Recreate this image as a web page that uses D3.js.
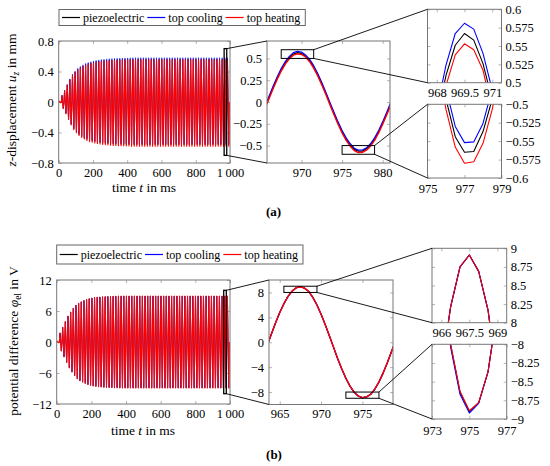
<!DOCTYPE html>
<html>
<head>
<meta charset="utf-8">
<script src="https://cdn.jsdelivr.net/npm/d3@7"></script>
<style>
body { margin: 0; background: #fff; }
svg text { font-family: "Liberation Serif", "DejaVu Serif", serif; }
</style>
</head>
<body>
<svg id="fig" width="550" height="466"></svg>
<script>
// ---------- data ----------
var seriesNames = ["piezoelectric", "top cooling", "top heating"];
var seriesColors = ["#000000", "#0000ff", "#ff0000"];

var period = 15.33; // ms, from the zero crossings of the zoomed curves

// (a) z-displacement, upper / lower peak of every cycle, 0..1000 ms
var dispPiezoTop = [0.012, 0.085, 0.150, 0.225, 0.295, 0.355, 0.395, 0.430, 0.455, 0.475,
  0.493, 0.505, 0.515, 0.525, 0.532, 0.538, 0.543, 0.547, 0.551, 0.554,
  0.556, 0.558, 0.560, 0.561, 0.562, 0.563, 0.564, 0.565, 0.566, 0.566,
  0.566, 0.566, 0.566, 0.566, 0.566, 0.566, 0.566, 0.566, 0.566, 0.566,
  0.566, 0.566, 0.566, 0.566, 0.566, 0.566, 0.566, 0.566, 0.566, 0.566,
  0.566, 0.566, 0.566, 0.566, 0.566, 0.566, 0.566, 0.566, 0.566, 0.566,
  0.566, 0.566, 0.566, 0.566, 0.566];
var dispPiezoBot = [-0.012, -0.085, -0.150, -0.225, -0.295, -0.355, -0.395, -0.430, -0.455, -0.475,
  -0.493, -0.505, -0.515, -0.525, -0.532, -0.538, -0.543, -0.547, -0.550, -0.553,
  -0.555, -0.557, -0.559, -0.560, -0.561, -0.562, -0.563, -0.564, -0.565, -0.565,
  -0.565, -0.565, -0.565, -0.565, -0.565, -0.565, -0.565, -0.565, -0.565, -0.565,
  -0.565, -0.565, -0.565, -0.565, -0.565, -0.565, -0.565, -0.565, -0.565, -0.565,
  -0.565, -0.565, -0.565, -0.565, -0.565, -0.565, -0.565, -0.565, -0.565, -0.565,
  -0.565, -0.565, -0.565, -0.565, -0.565];
var dispCoolTop = [0.012, 0.087, 0.154, 0.231, 0.303, 0.364, 0.405, 0.441, 0.467, 0.487,
  0.506, 0.518, 0.528, 0.538, 0.546, 0.552, 0.557, 0.561, 0.565, 0.568,
  0.570, 0.572, 0.574, 0.575, 0.576, 0.577, 0.578, 0.579, 0.581, 0.581,
  0.581, 0.581, 0.581, 0.581, 0.581, 0.581, 0.581, 0.581, 0.581, 0.581,
  0.581, 0.581, 0.581, 0.581, 0.581, 0.581, 0.581, 0.581, 0.581, 0.581,
  0.581, 0.581, 0.581, 0.581, 0.581, 0.581, 0.581, 0.581, 0.581, 0.581,
  0.581, 0.581, 0.581, 0.581, 0.581];
var dispCoolBot = [-0.012, -0.083, -0.146, -0.219, -0.287, -0.346, -0.385, -0.419, -0.443, -0.463,
  -0.480, -0.492, -0.502, -0.512, -0.518, -0.524, -0.529, -0.533, -0.537, -0.540,
  -0.542, -0.544, -0.546, -0.547, -0.548, -0.549, -0.550, -0.551, -0.552, -0.552,
  -0.552, -0.552, -0.552, -0.552, -0.552, -0.552, -0.552, -0.552, -0.552, -0.552,
  -0.552, -0.552, -0.552, -0.552, -0.552, -0.552, -0.552, -0.552, -0.552, -0.552,
  -0.552, -0.552, -0.552, -0.552, -0.552, -0.552, -0.552, -0.552, -0.552, -0.552,
  -0.552, -0.552, -0.552, -0.552, -0.552];
var dispHeatTop = [0.012, 0.083, 0.146, 0.220, 0.288, 0.346, 0.386, 0.420, 0.444, 0.464,
  0.481, 0.493, 0.503, 0.512, 0.519, 0.525, 0.530, 0.534, 0.538, 0.541,
  0.543, 0.545, 0.547, 0.548, 0.549, 0.550, 0.551, 0.552, 0.553, 0.553,
  0.553, 0.553, 0.553, 0.553, 0.553, 0.553, 0.553, 0.553, 0.553, 0.553,
  0.553, 0.553, 0.553, 0.553, 0.553, 0.553, 0.553, 0.553, 0.553, 0.553,
  0.553, 0.553, 0.553, 0.553, 0.553, 0.553, 0.553, 0.553, 0.553, 0.553,
  0.553, 0.553, 0.553, 0.553, 0.553];
var dispHeatBot = [-0.012, -0.087, -0.154, -0.230, -0.302, -0.364, -0.404, -0.440, -0.466, -0.486,
  -0.505, -0.517, -0.527, -0.538, -0.545, -0.551, -0.556, -0.560, -0.564, -0.567,
  -0.569, -0.571, -0.573, -0.574, -0.575, -0.577, -0.578, -0.579, -0.580, -0.580,
  -0.580, -0.580, -0.580, -0.580, -0.580, -0.580, -0.580, -0.580, -0.580, -0.580,
  -0.580, -0.580, -0.580, -0.580, -0.580, -0.580, -0.580, -0.580, -0.580, -0.580,
  -0.580, -0.580, -0.580, -0.580, -0.580, -0.580, -0.580, -0.580, -0.580, -0.580,
  -0.580, -0.580, -0.580, -0.580, -0.580];

// (a) zoomed samples, 0.5 ms step
var dispTime = [965.5, 966, 966.5, 967, 967.5, 968, 968.5, 969, 969.5, 970,
  970.5, 971, 971.5, 972, 972.5, 973, 973.5, 974, 974.5, 975,
  975.5, 976, 976.5, 977, 977.5, 978, 978.5, 979, 979.5, 980, 980.5, 981];
var dispPiezo = [-0.064, 0.052, 0.167, 0.273, 0.369, 0.449, 0.510, 0.551, 0.567, 0.558,
  0.526, 0.476, 0.403, 0.313, 0.210, 0.099, -0.018, -0.132, -0.242, -0.342,
  -0.426, -0.493, -0.544, -0.565, -0.564, -0.537, -0.493, -0.426, -0.342, -0.242, -0.132, -0.018];
var dispCool = [-0.050, 0.066, 0.181, 0.287, 0.383, 0.463, 0.524, 0.567, 0.581, 0.573,
  0.540, 0.490, 0.417, 0.327, 0.224, 0.113, -0.004, -0.118, -0.228, -0.328,
  -0.412, -0.479, -0.530, -0.552, -0.551, -0.526, -0.479, -0.412, -0.328, -0.228, -0.118, -0.004];
var dispHeat = [-0.078, 0.038, 0.153, 0.259, 0.355, 0.435, 0.496, 0.538, 0.553, 0.545,
  0.517, 0.462, 0.389, 0.299, 0.196, 0.085, -0.032, -0.146, -0.256, -0.356,
  -0.440, -0.507, -0.558, -0.580, -0.578, -0.553, -0.507, -0.440, -0.356, -0.256, -0.146, -0.032];

// (b) potential difference, peaks per cycle (the three runs coincide at this scale)
var phiTop = [0.15, 1.75, 2.85, 3.95, 5.00, 5.80, 6.50, 7.10, 7.48, 7.76,
  8.00, 8.22, 8.38, 8.50, 8.58, 8.64, 8.69, 8.74, 8.77, 8.80,
  8.82, 8.84, 8.86, 8.87, 8.88, 8.90, 8.90, 8.90, 8.90, 8.90,
  8.90, 8.90, 8.90, 8.90, 8.90, 8.90, 8.90, 8.90, 8.90, 8.90,
  8.90, 8.90, 8.90, 8.90, 8.90, 8.90, 8.90, 8.90, 8.90, 8.90,
  8.90, 8.90, 8.90, 8.90, 8.90, 8.90, 8.90, 8.90, 8.90, 8.90,
  8.90, 8.90, 8.90, 8.90, 8.90];
var phiBot = [-0.15, -1.75, -2.85, -3.95, -5.00, -5.80, -6.50, -7.10, -7.48, -7.76,
  -8.00, -8.22, -8.38, -8.50, -8.58, -8.64, -8.69, -8.74, -8.77, -8.80,
  -8.82, -8.84, -8.86, -8.87, -8.88, -8.89, -8.89, -8.89, -8.89, -8.89,
  -8.89, -8.89, -8.89, -8.89, -8.89, -8.89, -8.89, -8.89, -8.89, -8.89,
  -8.89, -8.89, -8.89, -8.89, -8.89, -8.89, -8.89, -8.89, -8.89, -8.89,
  -8.89, -8.89, -8.89, -8.89, -8.89, -8.89, -8.89, -8.89, -8.89, -8.89,
  -8.89, -8.89, -8.89, -8.89, -8.89];

// (b) zoomed samples, 0.5 ms step
var phiTime = [963.5, 964, 964.5, 965, 965.5, 966, 966.5, 967, 967.5, 968,
  968.5, 969, 969.5, 970, 970.5, 971, 971.5, 972, 972.5, 973,
  973.5, 974, 974.5, 975, 975.5, 976, 976.5, 977, 977.5, 978, 978.5, 979];
var phiPiezo = [-0.45, 1.36, 3.13, 4.77, 6.19, 7.37, 8.22, 8.75, 8.91, 8.69,
  8.17, 7.22, 5.99, 4.50, 2.83, 1.05, -0.78, -2.60, -4.27, -5.79,
  -7.05, -8.01, -8.64, -8.90, -8.78, -8.37, -7.53, -6.38, -4.96, -3.34, -1.58, 0.25];
var phiCool = [-0.45, 1.36, 3.13, 4.77, 6.19, 7.37, 8.21, 8.75, 8.91, 8.69,
  8.17, 7.22, 5.99, 4.50, 2.83, 1.04, -0.79, -2.61, -4.29, -5.81,
  -7.08, -8.04, -8.67, -8.92, -8.79, -8.37, -7.53, -6.38, -4.96, -3.34, -1.58, 0.25];
var phiHeat = [-0.45, 1.36, 3.13, 4.77, 6.19, 7.37, 8.22, 8.75, 8.91, 8.69,
  8.17, 7.22, 5.99, 4.50, 2.83, 1.05, -0.78, -2.60, -4.27, -5.78,
  -7.04, -8.00, -8.63, -8.89, -8.78, -8.37, -7.53, -6.38, -4.96, -3.34, -1.58, 0.25];

// ticks
var timeTicks = [0, 200, 400, 600, 800, 1000];
var dispTicks = [-0.8, -0.4, 0, 0.4, 0.8];
var phiTicks = [-12, -6, 0, 6, 12];

// ---------- drawing ----------
var svg = d3.select("#fig");
svg.append("rect").attr("width", 550).attr("height", 466).attr("fill", "#fff");
var defs = svg.append("defs");
var clipN = 0;

function fmt(d) {
  var s = String(Math.abs(d));
  if (Math.abs(d) === 1000) s = "1\u2009000";
  return (d < 0 ? "\u2212" : "") + s;
}

function styleAxis(sel) {
  sel.attr("font-family", null).attr("font-size", 12.5);
  sel.select(".domain").remove();
  sel.selectAll(".tick line").attr("stroke", "#b4b4b4");
  sel.selectAll(".tick text").attr("fill", "#000");
}

function cyclePoints(top, bot) {
  var pts = [[0, 0]];
  top.forEach(function(a, k) {
    var t0 = k * period;
    pts.push([t0 + period / 4, a], [t0 + period / 2, 0],
             [t0 + 3 * period / 4, bot[k]], [t0 + period, 0]);
  });
  return pts;
}

function makePanel(o) {
  var x = d3.scaleLinear().domain(o.xDomain).range([o.left, o.right]);
  var y = d3.scaleLinear().domain(o.yDomain).range([o.bottom, o.top]);
  var cid = "clip" + (clipN++);
  defs.append("clipPath").attr("id", cid).append("rect")
    .attr("x", o.left).attr("y", o.top)
    .attr("width", o.right - o.left).attr("height", o.bottom - o.top);

  var g = svg.append("g");
  var tk = 3;

  g.append("g").attr("transform", "translate(0," + o.bottom + ")")
    .call(d3.axisBottom(x).tickValues(o.xTicks).tickFormat(fmt).tickSize(-tk)
      .tickPadding(o.xPad || 5))
    .call(styleAxis);
  g.append("g").attr("transform", "translate(0," + o.top + ")")
    .call(d3.axisTop(x).tickValues(o.xTicks).tickFormat("").tickSize(-tk))
    .call(styleAxis);
  g.append("g").attr("transform", "translate(" + o.left + ",0)")
    .call(d3.axisLeft(y).tickValues(o.yTicks).tickSize(-tk).tickPadding(5)
      .tickFormat(o.yRight ? "" : fmt))
    .call(styleAxis);
  g.append("g").attr("transform", "translate(" + o.right + ",0)")
    .call(d3.axisRight(y).tickValues(o.yTicks).tickSize(-tk).tickPadding(4)
      .tickFormat(o.yRight ? fmt : ""))
    .call(styleAxis);

  var line = d3.line().x(function(d) { return x(d[0]); }).y(function(d) { return y(d[1]); });
  var lines = g.append("g").attr("clip-path", "url(#" + cid + ")");
  o.series.forEach(function(s, i) {
    lines.append("path").datum(s)
      .attr("d", line)
      .attr("fill", "none")
      .attr("stroke", seriesColors[i])
      .attr("stroke-width", o.lw[i])
      .attr("stroke-linejoin", "round");
  });

  g.append("rect")
    .attr("x", o.left).attr("y", o.top)
    .attr("width", o.right - o.left).attr("height", o.bottom - o.top)
    .attr("fill", "none").attr("stroke", "#777").attr("stroke-width", 1);

  return { x: x, y: y, g: g, o: o };
}

function zip(t, v) { return t.map(function(d, i) { return [d, v[i]]; }); }

// rectangle in panel p marking the range of panel q, plus two connectors
function zoomLink(p, q, w) {
  var x0 = p.x(q.o.xDomain[0]), x1 = p.x(q.o.xDomain[1]);
  var y0 = p.y(q.o.yDomain[1]), y1 = p.y(q.o.yDomain[0]);
  svg.append("rect").attr("x", x0).attr("y", y0)
    .attr("width", x1 - x0).attr("height", y1 - y0)
    .attr("fill", "none").attr("stroke", "#000").attr("stroke-width", w);
  svg.append("line").attr("x1", x1).attr("y1", y0).attr("x2", q.o.left).attr("y2", q.o.top)
    .attr("stroke", "#000").attr("stroke-width", 0.9);
  svg.append("line").attr("x1", x1).attr("y1", y1).attr("x2", q.o.left).attr("y2", q.o.bottom)
    .attr("stroke", "#000").attr("stroke-width", 0.9);
}

function legend(x0, y0, h) {
  var g = svg.append("g");
  var box = g.append("rect").attr("x", x0).attr("y", y0).attr("height", h)
    .attr("fill", "#fff").attr("stroke", "#666").attr("stroke-width", 1);
  var cx = x0 + 3, cy = y0 + h / 2;
  seriesNames.forEach(function(n, i) {
    g.append("line").attr("x1", cx).attr("x2", cx + 18).attr("y1", cy).attr("y2", cy)
      .attr("stroke", seriesColors[i]).attr("stroke-width", 1.2);
    cx += 21;
    var t = g.append("text").attr("x", cx).attr("y", cy + 4)
      .attr("font-size", 12).text(n);
    cx += t.node().getComputedTextLength() + 3;
  });
  box.attr("width", cx - x0 + 2);
}

var mainLw = [0.6, 0.6, 1.1], midLw = [1.2, 1.2, 1.4], insLw = [1.1, 1.1, 1.1];

// ---------- panel (a) ----------
var aMain = makePanel({
  left: 58.7, right: 230, top: 41, bottom: 163,
  xDomain: [0, 1000], yDomain: [-0.8, 0.8],
  xTicks: timeTicks, yTicks: dispTicks, lw: mainLw,
  series: [cyclePoints(dispPiezoTop, dispPiezoBot),
           cyclePoints(dispCoolTop, dispCoolBot),
           cyclePoints(dispHeatTop, dispHeatBot)]
});
var aMid = makePanel({
  left: 267, right: 390, top: 41, bottom: 163,
  xDomain: [965.75, 980.9], yDomain: [-0.7, 0.7],
  xTicks: [970, 975, 980], yTicks: [-0.5, -0.25, 0, 0.25, 0.5], lw: midLw,
  series: [zip(dispTime, dispPiezo), zip(dispTime, dispCool), zip(dispTime, dispHeat)]
});
var aUp = makePanel({
  left: 427.5, right: 501.5, top: 9.3, bottom: 82.7, xPad: 5,
  xDomain: [967.5, 971.5], yDomain: [0.5, 0.6], yRight: true,
  xTicks: [968, 969.5, 971], yTicks: [0.5, 0.525, 0.55, 0.575, 0.6], lw: insLw,
  series: [zip(dispTime, dispPiezo), zip(dispTime, dispCool), zip(dispTime, dispHeat)]
});
var aLow = makePanel({
  left: 427.5, right: 501.5, top: 104.3, bottom: 178, xPad: 6,
  xDomain: [975, 979], yDomain: [-0.6, -0.5], yRight: true,
  xTicks: [975, 977, 979], yTicks: [-0.6, -0.575, -0.55, -0.525, -0.5], lw: insLw,
  series: [zip(dispTime, dispPiezo), zip(dispTime, dispCool), zip(dispTime, dispHeat)]
});
zoomLink(aMain, aMid, 1.3);
zoomLink(aMid, aUp, 1);
zoomLink(aMid, aLow, 1);
legend(59, 9.5, 16);

// ---------- panel (b) ----------
var bMain = makePanel({
  left: 56.7, right: 230, top: 280, bottom: 404,
  xDomain: [0, 1000], yDomain: [-12, 12],
  xTicks: timeTicks, yTicks: phiTicks, lw: mainLw,
  series: [cyclePoints(phiTop, phiBot), cyclePoints(phiTop, phiBot), cyclePoints(phiTop, phiBot)]
});
var bMid = makePanel({
  left: 269, right: 393, top: 280, bottom: 404.5,
  xDomain: [963.7, 978.7], yDomain: [-10, 10],
  xTicks: [965, 970, 975], yTicks: [-8, -4, 0, 4, 8], lw: midLw,
  series: [zip(phiTime, phiPiezo), zip(phiTime, phiCool), zip(phiTime, phiHeat)]
});
var bUp = makePanel({
  left: 432, right: 506.7, top: 248.3, bottom: 322.7, xPad: 5,
  xDomain: [965.5, 969.5], yDomain: [8, 9], yRight: true,
  xTicks: [966, 967.5, 969], yTicks: [8, 8.25, 8.5, 8.75, 9], lw: insLw,
  series: [zip(phiTime, phiPiezo), zip(phiTime, phiCool), zip(phiTime, phiHeat)]
});
var bLow = makePanel({
  left: 432, right: 506.7, top: 344.3, bottom: 419, xPad: 7,
  xDomain: [973, 977], yDomain: [-9, -8], yRight: true,
  xTicks: [973, 975, 977], yTicks: [-9, -8.75, -8.5, -8.25, -8], lw: insLw,
  series: [zip(phiTime, phiPiezo), zip(phiTime, phiCool), zip(phiTime, phiHeat)]
});
zoomLink(bMain, bMid, 1.3);
zoomLink(bMid, bUp, 1);
zoomLink(bMid, bLow, 1);
legend(56.7, 245, 19);

// ---------- axis titles and captions ----------
function xTitle(cx, by) {
  var t = svg.append("text").attr("x", cx).attr("y", by)
    .attr("text-anchor", "middle").attr("font-size", 13.5);
  t.append("tspan").text("time ");
  t.append("tspan").attr("font-style", "italic").text("t");
  t.append("tspan").text(" in ms");
}
xTitle(144, 192);
xTitle(143, 435);

var ya = svg.append("text").attr("transform", "translate(16,100) rotate(-90)")
  .attr("text-anchor", "middle").attr("font-size", 13.5);
ya.append("tspan").attr("font-style", "italic").text("z");
ya.append("tspan").text("-displacement ");
ya.append("tspan").attr("font-style", "italic").text("u");
ya.append("tspan").attr("font-style", "italic").attr("font-size", 9.5).attr("dy", 3).text("z");
ya.append("tspan").attr("dy", -3).text(" in mm");

var yb = svg.append("text").attr("transform", "translate(18,341) rotate(-90)")
  .attr("text-anchor", "middle").attr("font-size", 13.5);
yb.append("tspan").text("potential difference ");
yb.append("tspan").attr("font-style", "italic").text("\u03c6");
yb.append("tspan").attr("font-size", 9.5).attr("dy", 3).text("el");
yb.append("tspan").attr("dy", -3).text(" in V");

svg.append("text").attr("x", 273.5).attr("y", 216).attr("text-anchor", "middle")
  .attr("font-size", 13).attr("font-weight", "bold").text("(a)");
svg.append("text").attr("x", 274).attr("y", 459).attr("text-anchor", "middle")
  .attr("font-size", 13).attr("font-weight", "bold").text("(b)");
</script>
</body>
</html>
